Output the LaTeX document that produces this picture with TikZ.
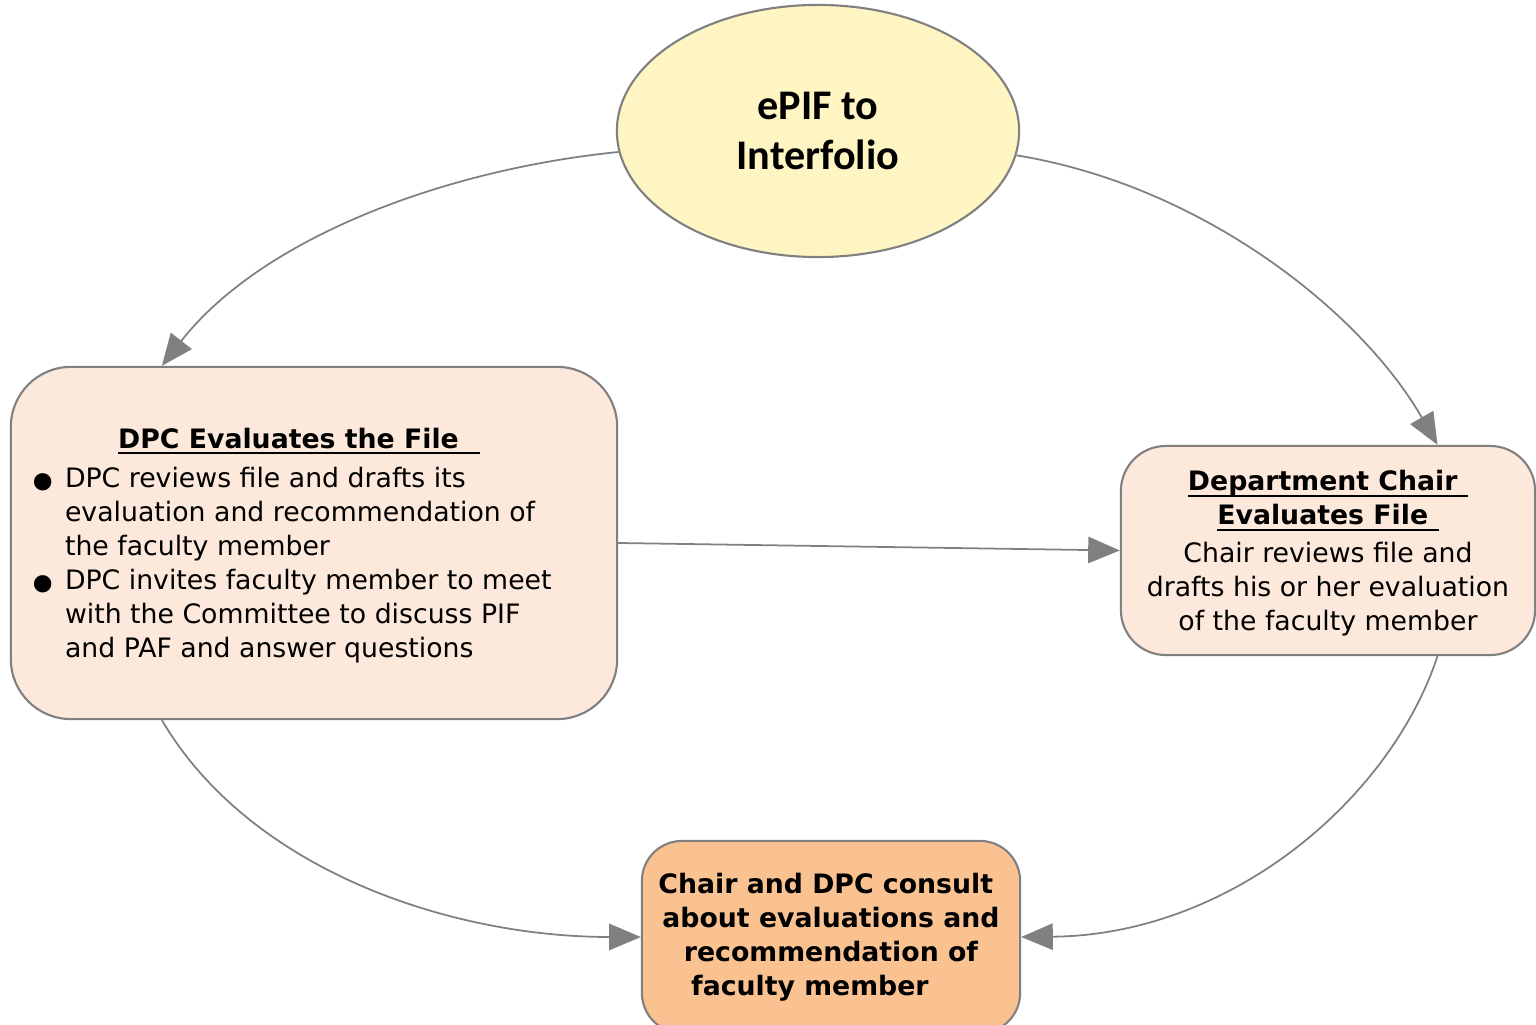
\documentclass[tikz,border=0pt]{standalone}
\usepackage{fontspec}
\setmainfont{DejaVu Sans}
\newfontfamily\calibri{Carlito}
\usetikzlibrary{positioning, shapes.geometric, arrows.meta, calc}

\definecolor{epifyellow}{HTML}{FFF5C2}
\definecolor{evalpeach}{HTML}{FCE9DB}
\definecolor{consultorange}{HTML}{F9C290}
\definecolor{edgegray}{HTML}{808080}

% underlined heading, the rule runs on past the words
\newcommand{\ultitle}[2][3pt]{%
  \setbox0\hbox{#2\hspace{#1}}%
  \rlap{\rule[-1.8pt]{\wd0}{0.55pt}}\box0}
\newcommand{\bigdot}{\raisebox{-4.75pt}[0pt][0pt]{\fontsize{17}{17}\selectfont\textbullet}}

\begin{document}
\begin{tikzpicture}[
  x=0.01cm, y=-0.01cm,
  startnode/.style={
    ellipse, draw=edgegray, line width=0.6pt, fill=epifyellow,
    minimum width=4.02cm, minimum height=2.52cm, inner sep=0pt,
    align=center, font=\calibri\bfseries\fontsize{12}{14.2}\selectfont,
  },
  evalbox/.style={
    rectangle, draw=edgegray, line width=0.6pt, fill=evalpeach,
    align=center, inner sep=0pt,
    font=\fontsize{7.6}{9.68}\selectfont,
  },
  consultbox/.style={
    rectangle, draw=edgegray, line width=0.6pt, fill=consultorange,
    rounded corners=0.4cm, align=center, inner sep=0pt,
    minimum width=3.78cm, minimum height=1.92cm,
    font=\bfseries\fontsize{7.6}{9.68}\selectfont,
  },
  flow/.style={-{Triangle[length=9pt, width=7.5pt]}, draw=edgegray, line width=0.5pt},
]
\useasboundingbox (0,0) rectangle (1536,1025);

\node[startnode] (epif) at (818,131) {ePIF to\\Interfolio};

\node[evalbox, rounded corners=0.6cm, minimum width=6.06cm, minimum height=3.52cm]
  (dpc) at (314,543)
  {\rule{0pt}{8.6pt}\ultitle[6pt]{\bfseries DPC Evaluates the File}\hspace*{8.5pt}\\[1.6pt]
   \begin{tabular}[t]{@{}l@{\hspace{1.25pt}}l@{}}
   \bigdot & DPC reviews file and drafts its\\
     & evaluation and recommendation of\\
     & the faculty member\\
   \bigdot & DPC invites faculty member to meet\\
     & with the Committee to discuss PIF\\
     & and PAF and answer questions
   \end{tabular}\hspace*{14.5pt}};

\node[evalbox, rounded corners=0.45cm, minimum width=4.14cm, minimum height=2.09cm]
  (dept) at (1328,550.5)
  {\rule{0pt}{7.4pt}\ultitle{\bfseries Department Chair}\\
   \ultitle{\bfseries Evaluates File}\\[1pt]
   Chair reviews file and\\
   drafts his or her evaluation\\
   of the faculty member};

\node[consultbox] (consult) at (831,937)
  {Chair and DPC consult\hspace*{3pt}\\about evaluations and\hspace*{5pt}\\recommendation of\hspace*{5pt}\\faculty member\hspace*{12pt}};

% the cycle round the four stages
\draw[flow] (epif.186) .. controls (440,170) and (260,240)
  .. ($(dpc.north west)!0.25!(dpc.north east)$);
\draw[flow] (epif.353) .. controls (1200,185) and (1360,310)
  .. ($(dept.north west)!0.763!(dept.north east)$);
\draw[flow] (dpc.east) -- (dept.west);
\draw[flow] ($(dpc.south west)!0.25!(dpc.south east)$) .. controls (250,870) and (450,937)
  .. (consult.west);
\draw[flow] ($(dept.south west)!0.763!(dept.south east)$) .. controls (1390,800) and (1230,935)
  .. (consult.east);
\end{tikzpicture}
\end{document}
